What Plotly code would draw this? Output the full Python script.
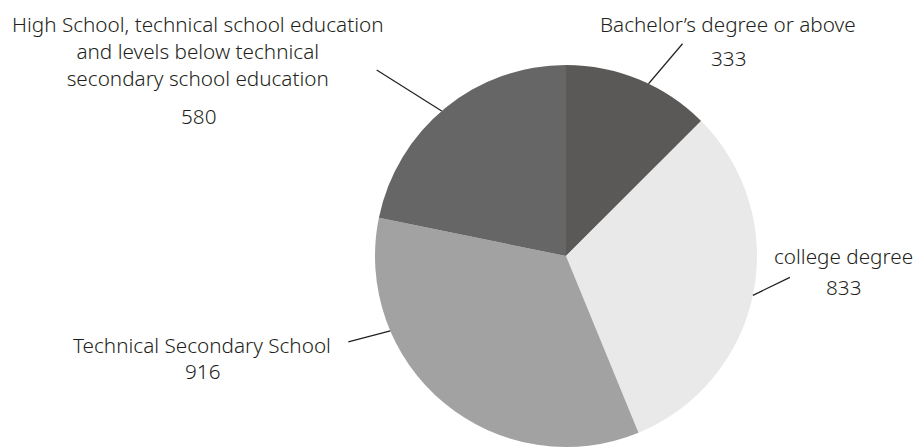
import math
import plotly.graph_objects as go

categories = ["Bachelor’s degree or above", "college degree",
              "Technical Secondary School",
              "High School, technical school education<br>and levels below technical<br>secondary school education"]
values = [333, 833, 916, 580]
colors = ["#5a5957", "#e9e9e9", "#a2a2a2", "#666666"]

W, H = 914, 448
CX, CY, R = 566, 256, 191

fig = go.Figure(go.Pie(
    labels=categories, values=values, sort=False, direction="clockwise", rotation=0,
    marker=dict(colors=colors, line=dict(width=0)), textinfo="none", hoverinfo="label+value",
    domain=dict(x=[(CX - R) / W, (CX + R) / W], y=[(H - CY - R) / H, (H - CY + R) / H]),
    showlegend=False,
))

# leader line geometry: angle on the rim (deg clockwise from top) and outward offset in px
leaders = [(25.6, 34, -40), (101.9, 37, -18), (246.9, -42, 11), (319.4, -65, -41)]
# label centres (px) for name and value
label_pos = [((728, 24), (728, 58)), ((843, 256), (843, 287)),
             ((202, 345), (202, 371)), ((198, 51), (198, 116))]

def px2paper(x, y):
    return x / W, 1 - y / H

shapes = []
annotations = []
for (ang, dx, dy), (lp, vp), name, val in zip(leaders, label_pos, categories, values):
    a = math.radians(ang)
    x0 = CX + R * math.sin(a)
    y0 = CY - R * math.cos(a)
    p0 = px2paper(x0, y0)
    p1 = px2paper(x0 + dx, y0 + dy)
    shapes.append(dict(type="line", xref="paper", yref="paper", x0=p0[0], y0=p0[1], x1=p1[0], y1=p1[1],
                       line=dict(color="#231f20", width=1.2)))
    nx, ny = px2paper(*lp)
    vx, vy = px2paper(*vp)
    annotations.append(dict(x=nx, y=ny, xref="paper", yref="paper", text=name, showarrow=False,
                            xanchor="center", yanchor="middle", align="center"))
    annotations.append(dict(x=vx, y=vy, xref="paper", yref="paper", text=str(val), showarrow=False,
                            xanchor="center", yanchor="middle"))

fig.update_layout(
    width=W, height=H, margin=dict(l=0, r=0, t=0, b=0),
    paper_bgcolor="white", plot_bgcolor="white",
    font=dict(family="Noto Sans, Open Sans, sans-serif", size=20.7, color="#231f20", weight=300),
    shapes=shapes, annotations=annotations,
)
fig.write_html("out.html")
